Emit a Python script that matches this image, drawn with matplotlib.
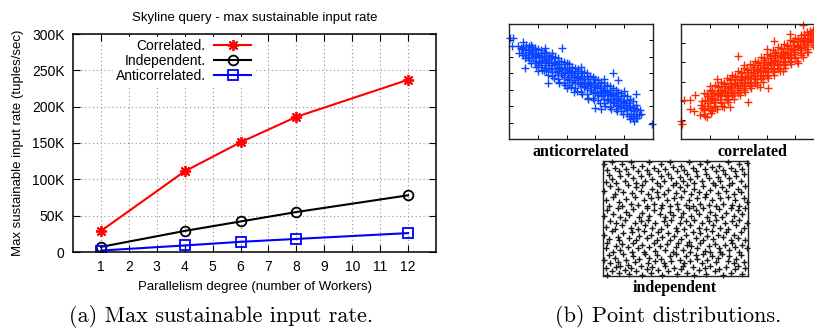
import numpy as np
import matplotlib
matplotlib.use("Agg")
import matplotlib.pyplot as plt

# ---- left chart data ----
workers = [1, 4, 6, 8, 12]
correlated = [29000, 111000, 151000, 186000, 237000]
independent = [7000, 29000, 42000, 55000, 78000]
anticorrelated = [2000, 9000, 14000, 18000, 26000]
x_ticks = list(range(1, 13))
y_ticks = [0, 50000, 100000, 150000, 200000, 250000, 300000]
y_ticklabels = ["0", "50K", "100K", "150K", "200K", "250K", "300K"]

# ---- point clouds (panel coords 0..100) ----
anti_pts = [
    (8,79),(9,75),(10,80),(11,77),
    (12,73),(13,78),(14,76),(13,71),(15,74),
    (16,75),(17,70),(17,77),(18,72),(19,68),(18,74),
    (20,73),(21,67),(21,71),(22,75),(22,66),(23,69),(20,64),
    (24,70),(25,64),(25,68),(26,72),(26,62),(27,66),(24,60),
    (28,67),(29,61),(29,70),(30,64),(30,58),(31,67),(28,62),
    (32,65),(33,59),(33,62),(34,68),(34,56),(35,61),(32,58),(35,65),
    (36,62),(37,56),(37,60),(38,65),(38,54),(39,58),(36,57),(39,62),
    (40,60),(41,54),(41,57),(42,62),(42,51),(43,56),(40,52),(43,59),
    (44,57),(45,51),(45,54),(46,59),(46,49),(47,53),(44,50),(47,57),
    (48,55),(49,48),(49,52),(50,57),(50,46),(51,50),(48,49),(51,54),
    (52,52),(53,46),(53,49),(54,55),(54,44),(55,48),(52,45),(55,52),
    (56,49),(57,43),(57,47),(58,52),(58,41),(59,45),(56,43),(59,49),
    (60,47),(61,40),(61,44),(62,49),(62,38),(63,42),(60,40),(63,46),
    (64,44),(65,38),(65,41),(66,46),(66,35),(67,40),(64,37),(67,43),
    (68,41),(69,35),(69,38),(70,43),(70,33),(71,37),(68,34),(71,40),
    (72,38),(73,32),(73,35),(74,40),(74,30),(75,34),(72,31),(75,37),
    (76,35),(77,30),(77,33),(78,37),(78,28),(79,31),(76,29),
    (80,32),(81,27),(81,30),(82,34),(82,25),(83,29),(80,27),
    (84,29),(85,25),(85,22),(86,28),(86,20),(87,24),
    (88,22),(89,26),(88,18),(90,21),
    (10,84),(10,73),(11,70),(12,82),(9,78),
    (14,81),(14,69),(15,66),(16,80),(15,77),
    (18,79),(18,66),(19,63),(20,78),(19,75),
    (22,77),(22,63),(23,60),(24,76),(23,72),
    (26,75),(26,59),(27,56),(28,73),(27,69),
    (30,72),(30,55),(31,53),(32,71),(31,66),
    (34,70),(34,52),(35,50),(36,68),(35,63),
    (38,67),(38,49),(39,47),(40,66),(39,60),
    (42,65),(42,47),(43,45),(44,63),(43,58),
    (46,62),(46,44),(47,42),(48,61),(47,55),
    (50,59),(50,41),(51,39),(52,58),(51,52),
    (54,57),(54,39),(55,36),(56,55),(55,50),
    (58,54),(58,36),(59,34),(60,52),(59,47),
    (62,51),(62,34),(63,31),(64,50),(63,44),
    (66,49),(66,31),(67,29),(68,47),(67,42),
    (70,46),(70,28),(71,26),(72,44),(71,39),
    (74,43),(74,26),(75,24),(76,41),(75,36),
    (78,40),(78,24),(79,22),(80,38),(79,33),
    (82,37),(82,22),(83,20),(84,35),(83,31),
    (86,33),(86,18),(87,16),(88,30),(87,27),
    (1,88),(3,88),(2,81),(6,81),(7,75),(11,62),(25,79),(37,79),(27,49),
    (40,44),(72,57),(76,51),(88,39),(91,25),(89,18),(60,27),(64,26),
    (99,13),(15,82),(30,75),(50,63),(45,41),(66,52),(55,35),(80,42),
    (35,49),(20,59),(84,17),(92,22),
]

corr_pts = [
    (14,30),(15,27),(15,33),(16,25),(16,29),
    (18,33),(19,29),(19,37),(20,31),(20,27),(21,35),
    (22,36),(23,32),(23,40),(24,34),(24,29),(25,38),(22,42),
    (26,39),(27,35),(27,43),(28,37),(28,32),(29,41),(26,45),
    (30,42),(31,38),(31,46),(32,40),(32,35),(33,44),(30,48),(33,37),
    (34,45),(35,41),(35,49),(36,43),(36,38),(37,47),(34,51),(37,40),
    (38,48),(39,44),(39,52),(40,46),(40,41),(41,50),(38,54),(41,43),
    (42,51),(43,47),(43,55),(44,49),(44,44),(45,53),(42,57),(45,46),
    (46,54),(47,50),(47,58),(48,52),(48,47),(49,56),(46,60),(49,49),
    (50,57),(51,53),(51,61),(52,55),(52,50),(53,59),(50,63),(53,52),
    (54,60),(55,56),(55,64),(56,58),(56,53),(57,62),(54,66),(57,55),
    (58,63),(59,59),(59,67),(60,61),(60,56),(61,65),(58,69),(61,58),
    (62,66),(63,62),(63,70),(64,64),(64,59),(65,68),(62,72),(65,61),
    (66,69),(67,65),(67,73),(68,67),(68,62),(69,71),(66,75),(69,64),
    (70,72),(71,68),(71,76),(72,70),(72,65),(73,74),(70,78),(73,67),
    (74,75),(75,71),(75,79),(76,73),(76,68),(77,77),(74,81),(77,70),
    (78,78),(79,74),(79,82),(80,76),(80,71),(81,80),(78,84),
    (82,81),(83,77),(83,85),(84,79),(84,75),(85,83),(82,87),
    (86,84),(87,80),(87,88),(88,82),(88,86),(89,90),
    (90,87),(91,84),(91,91),(92,89),(93,86),(94,92),(95,88),
    (16,40),(16,22),(17,20),(18,39),(17,34),
    (20,43),(20,25),(21,23),(22,42),(21,37),
    (24,47),(24,28),(25,26),(26,46),(25,40),
    (28,50),(28,31),(29,29),(30,49),(29,43),
    (32,53),(32,34),(33,32),(34,52),(33,46),
    (36,56),(36,37),(37,35),(38,55),(37,49),
    (40,59),(40,40),(41,38),(42,58),(41,52),
    (44,62),(44,43),(45,41),(46,61),(45,55),
    (48,65),(48,46),(49,44),(50,64),(49,58),
    (52,68),(52,49),(53,47),(54,67),(53,61),
    (56,71),(56,52),(57,50),(58,70),(57,64),
    (60,74),(60,55),(61,53),(62,73),(61,67),
    (64,77),(64,58),(65,56),(66,76),(65,70),
    (68,80),(68,61),(69,59),(70,79),(69,73),
    (72,83),(72,64),(73,62),(74,82),(73,76),
    (76,86),(76,67),(77,65),(78,85),(77,79),
    (80,88),(80,70),(81,68),(82,87),(81,82),
    (84,90),(84,73),(85,71),(86,91),(85,86),
    (88,93),(88,78),(89,76),(90,94),(89,84),
    (92,95),(92,82),(93,80),(94,96),(93,91),
    (1,13),(0,16),(2,34),(6,34),(10,38),(6,26),(9,24),(13,21),(18,19),
    (16,26),(20,46),(25,52),(40,72),(34,28),(47,32),(61,44),(71,59),
    (82,66),(85,99),(92,92),(88,76),(91,85),(65,85),(76,91),(95,80),
    (97,95),(55,45),(30,28),(44,64),(22,24),(60,78),
]

ind_pts = [
    (2,7),(3,1),(6,4),(9,8),(11,3),(12,9),(15,5),(18,2),(19,7),(23,4),(26,9),(27,1),(30,6),(33,3),(34,8),(38,5),(41,1),(43,9),(45,4),(49,7),(51,2),(54,6),(55,9),(58,3),(62,8),(63,1),(66,5),(70,7),(71,2),(74,9),(77,4),(80,6),(83,1),(85,8),(88,3),(91,6),(93,9),(96,2),(98,7),
    (1,14),(4,18),(5,11),(8,16),(10,12),(14,19),(16,14),(17,10),(21,17),(22,12),(25,15),(29,19),(31,11),(32,16),(36,13),(37,18),(40,15),(42,11),(46,17),(47,13),(50,19),(53,14),(56,11),(57,17),(60,13),(64,18),(65,15),(68,11),(69,19),(72,14),(75,17),(78,12),(79,16),(82,19),(86,13),(87,17),(90,11),(92,15),(95,18),(97,12),
    (2,24),(3,29),(7,21),(9,26),(12,23),(13,28),(17,25),(20,21),(21,29),(24,24),(27,27),(28,21),(32,25),(35,29),(36,22),(39,26),(43,23),(44,28),(48,21),(50,25),(52,29),(55,23),(58,27),(60,21),(61,26),(65,24),(67,29),(70,22),(73,26),(74,21),(77,28),(80,24),(81,21),(84,27),(87,23),(89,29),(91,25),(94,21),(96,27),(99,24),
    (1,36),(4,32),(6,39),(10,34),(11,31),(14,37),(18,33),(20,38),(23,31),(25,35),(28,39),(30,33),(33,36),(37,31),(38,38),(41,34),(45,37),(46,31),(49,35),(51,39),(54,32),(57,36),(59,30),(62,38),(64,33),(67,37),(69,31),(72,35),(75,39),(76,32),(79,36),(83,34),(85,38),(88,31),(90,36),(93,33),(95,38),(98,31),
    (2,43),(5,48),(8,41),(9,46),(13,44),(15,49),(19,42),(22,46),(24,41),(26,48),(29,44),(31,49),(34,42),(36,46),(40,41),(42,48),(44,44),(47,49),(50,42),(53,46),(56,41),(57,48),(60,44),(63,49),(66,42),(68,46),(71,41),(73,48),(76,44),(78,49),(81,42),(84,46),(86,41),(89,48),(92,44),(94,49),(97,42),(99,46),
    (1,52),(3,57),(7,54),(10,59),(12,51),(16,56),(18,53),(21,58),(25,51),(27,55),(30,59),(32,52),(35,57),(39,54),(40,59),(43,51),(46,56),(48,53),(52,58),(54,51),(55,55),(59,59),(61,52),(64,57),(66,54),(69,59),(72,51),(74,56),(77,53),(80,58),(82,51),(85,55),(88,59),(90,52),(93,57),(96,54),(98,59),
    (2,66),(4,61),(7,69),(11,64),(13,61),(16,67),(19,63),(22,69),(24,62),(28,66),(30,61),(33,68),(35,63),(38,69),(41,62),(44,66),(46,61),(49,68),(51,63),(54,69),(57,62),(59,66),(62,61),(65,68),(67,63),(70,69),(73,62),(75,66),(78,61),(81,68),(83,63),(86,69),(89,62),(91,66),(94,61),(97,68),(99,64),
    (1,74),(5,78),(8,71),(10,76),(14,73),(17,79),(20,72),(23,77),(26,74),(27,79),(31,71),(34,76),(37,73),(39,78),(42,71),(45,75),(48,79),(50,72),(53,77),(56,74),(58,79),(61,71),(63,76),(66,73),(69,78),(71,71),(74,75),(77,79),(79,72),(82,77),(85,74),(87,79),(90,71),(93,76),(95,73),(98,78),
    (2,82),(4,88),(6,84),(9,81),(12,87),(15,83),(17,89),(21,85),(23,81),(26,87),(29,83),(32,89),(34,84),(37,81),(40,87),(42,83),(45,89),(47,85),(50,81),(53,86),(55,83),(58,89),(60,84),(63,81),(65,87),(68,83),(71,89),(73,85),(76,81),(79,86),(81,83),(84,89),(87,85),(89,81),(92,87),(95,83),(97,89),
    (1,97),(3,92),(6,99),(8,94),(11,91),(13,97),(16,93),(19,99),(21,95),(24,91),(27,96),(30,92),(32,99),(35,94),(38,91),(40,97),(43,93),(46,99),(48,95),(51,91),(54,96),(56,92),(59,99),(62,94),(64,91),(67,97),(70,93),(72,99),(75,95),(78,91),(80,96),(83,92),(86,99),(88,94),(91,91),(94,97),(96,93),(99,98),
]

sans = ["Liberation Sans", "DejaVu Sans"]
serif_b = ["Liberation Serif", "DejaVu Serif"]

fig = plt.figure(figsize=(8.14, 3.29), dpi=100)

# ================= (a) line chart =================
ax = fig.add_axes([73/814, 1-252/329, 363/814, 218/329])
ax.plot(workers, correlated, color="#ff0000", lw=1.5, marker=(8, 2, 0), ms=8, mew=1.3, label="Correlated.")
ax.plot(workers, independent, color="black", lw=1.5, marker="o", ms=7, mfc="none", mew=1.3, label="Independent.")
ax.plot(workers, anticorrelated, color="#0000ff", lw=1.5, marker="s", ms=7, mfc="none", mew=1.3, label="Anticorrelated.")
ax.set_xlim(0, 13)
ax.set_ylim(0, 300000)
ax.set_xticks(x_ticks)
ax.set_xticklabels([str(t) for t in x_ticks], fontfamily=sans, fontsize=10)
ax.set_yticks(y_ticks)
ax.set_yticklabels(y_ticklabels, fontfamily=sans, fontsize=10)
ax.tick_params(direction="in", length=5, width=0.8, top=True, right=True, pad=6)
ax.grid(True, linestyle=(0, (1, 2.5)), color="#909090", lw=0.8)
for s in ax.spines.values():
    s.set_linewidth(1.1)
ax.set_title("Skyline query - max sustainable input rate", fontfamily=sans, fontsize=9.5, pad=9)
ax.set_xlabel("Parallelism degree (number of Workers)", fontfamily=sans, fontsize=9.5, labelpad=5)
ax.set_ylabel("Max sustainable input rate (tuples/sec)", fontfamily=sans, fontsize=9.5, labelpad=6)
leg = ax.legend(loc="upper right", bbox_to_anchor=(0.497, 0.985), markerfirst=False, frameon=True,
                fancybox=False, edgecolor="white", facecolor="white", framealpha=1,
                prop={"family": sans, "size": 10}, handlelength=2.7, handletextpad=0.6,
                labelspacing=0.05, borderpad=0.15, borderaxespad=0)
fig.text(221/814, 1-316/329, "(a) Max sustainable input rate.", fontfamily="cmr10", fontsize=16,
         ha="center", va="center")

# ================= (b) point distributions =================
def cloud(rect, pts, color, xt, yt, label, lx, ly, ms=5.5):
    a = fig.add_axes(rect)
    p = np.array(pts)
    a.plot(p[:, 0], p[:, 1], ls="none", marker="+", ms=ms, mew=1.0, color=color, clip_on=False)
    a.set_xlim(0, 100)
    a.set_ylim(0, 100)
    a.set_xticks(xt)
    a.set_yticks(yt)
    a.tick_params(direction="in", length=3, width=0.7, top=True, right=True,
                  labelbottom=False, labelleft=False)
    for s in a.spines.values():
        s.set_linewidth(1.0)
        s.set_color("#222222")
    fig.text(lx/814, 1-ly/329, label, fontfamily=serif_b, fontweight="bold", fontsize=11.5,
             ha="center", va="center")
    return a

cloud([509/814, 1-139/329, 144/814, 115/329], anti_pts, "#0a46ff",
      [20, 40, 60, 80], np.linspace(0, 100, 8)[1:-1], "anticorrelated", 581, 152)
cloud([681/814, 1-139/329, 143/814, 115/329], corr_pts, "#ff2a00",
      [20, 40, 60, 80], np.linspace(0, 100, 7)[1:-1], "correlated", 752, 152)
cloud([603/814, 1-276/329, 145/814, 115/329], ind_pts, "#1a1a1a",
      [], [], "independent", 675, 288, ms=5)

fig.text(668/814, 1-316/329, "(b) Point distributions.", fontfamily="cmr10", fontsize=16,
         ha="center", va="center")

fig.savefig("out.png", dpi=100)
